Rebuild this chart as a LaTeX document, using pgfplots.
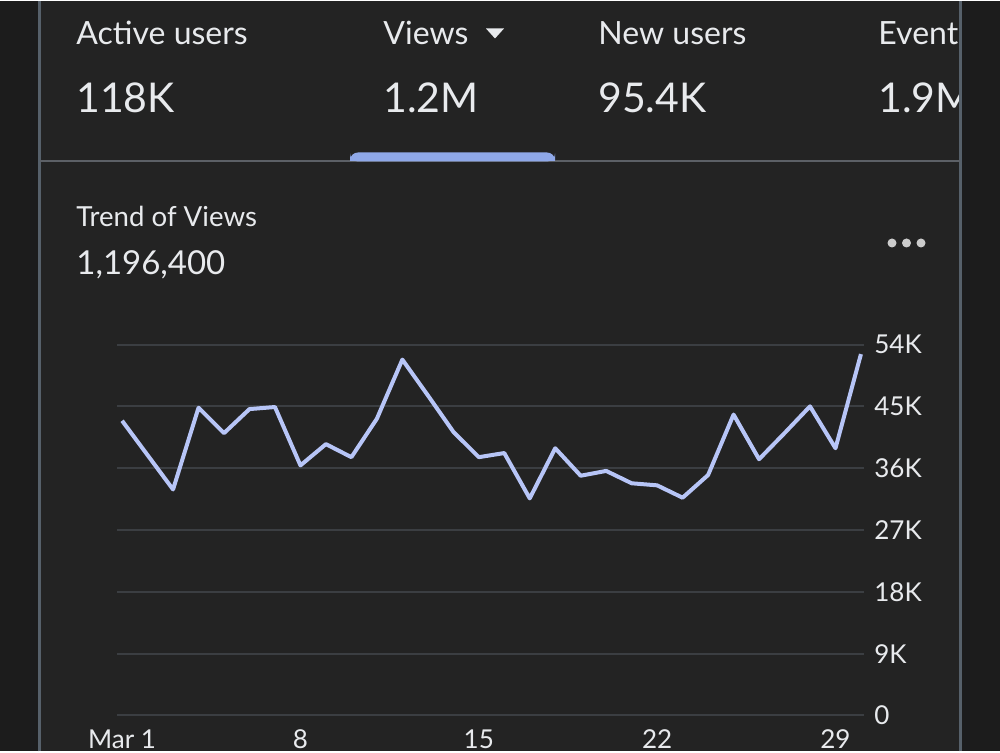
\documentclass[border=0pt]{standalone}
\usepackage{pgfplots}
\pgfplotsset{compat=1.18}
\usepackage{fontspec}
\setmainfont{Lato}
\definecolor{outerbg}{HTML}{1C1C1C}
\definecolor{cardbg}{HTML}{232323}
\definecolor{borderc}{HTML}{56606A}
\definecolor{sepc}{HTML}{5C6066}
\definecolor{tabc}{HTML}{8FA8E8}
\definecolor{linec}{HTML}{B7C5F7}
\definecolor{gridc}{HTML}{3B3E42}
\definecolor{txt}{HTML}{E8EAED}
\begin{document}
\begin{tikzpicture}[x=0.5pt,y=0.5pt]
\fill[outerbg] (0,0) rectangle (1000,750);
\fill[cardbg] (40,0) rectangle (960,750);
% header texts
\begin{scope}[every node/.style={inner sep=0pt, anchor=base west, text=txt}]
\node at (76,707) {\fontsize{16}{18}\selectfont Active users};
\node at (383,707) {\fontsize{16}{18}\selectfont Views};
\node at (598,707) {\fontsize{16}{18}\selectfont New users};
\node at (878,707) {\fontsize{16}{18}\selectfont Events};
\node at (76,639) {\fontsize{20.5}{24}\selectfont 118K};
\node at (383,639) {\fontsize{20.5}{24}\selectfont 1.2M};
\node at (598,639) {\fontsize{20.5}{24}\selectfont 95.4K};
\node at (878,639) {\fontsize{20.5}{24}\selectfont 1.9M};
\node at (76,525) {\fontsize{13.8}{16}\selectfont Trend of Views};
\node at (76,477) {\fontsize{16.5}{19}\selectfont 1,196,400};
\end{scope}
\fill[txt] (486,723) -- (504,723) -- (495,713) -- cycle;
\fill[black!20] (892,508.5) circle (4.5) (906.5,508.5) circle (4.5) (921,508.5) circle (4.5);
% clip right overflow
\fill[outerbg] (961,0) rectangle (1000,750);
\draw[borderc, line width=1.5pt] (39.5,0) -- (39.5,750);
\draw[borderc, line width=1.5pt] (960.5,0) -- (960.5,750);
\draw[sepc, line width=1pt] (40,590) -- (960,590);
\fill[tabc, rounded corners=4pt] (350,590) -- (350,599) -- (555,599) -- (555,590) -- cycle;
\fill[tabc] (350,590) rectangle (555,594);
\begin{axis}[
  at={(58.5pt,18pt)}, anchor=south west,
  scale only axis, width=373.5pt, height=185.5pt,
  xmin=0.8, xmax=30.12, ymin=0, ymax=54,
  axis line style={draw=none},
  major tick length=0pt,
  ytick={0,9,18,27,36,45,54},
  yticklabels={0,9K,18K,27K,36K,45K,54K},
  yticklabel pos=right,
  yticklabel style={anchor=west, inner sep=0pt, xshift=5pt},
  xtick={1,8,15,22,29},
  xticklabels={Mar 1,8,15,22,29},
  xticklabel style={anchor=base, inner sep=0pt, yshift=-16.5pt},
  ticklabel style={font=\fontsize{13}{15}\selectfont, text=txt},
  ymajorgrids, grid style={color=gridc, line width=1pt},
  clip=false,
]
\addplot[color=linec, line width=2pt, line join=round, mark=none] coordinates {
(1,42.9) (2,37.9) (3,32.9) (4,44.8) (5,41.1) (6,44.6) (7,44.9) (8,36.4)
(9,39.5) (10,37.6) (11,43.2) (12,51.8) (13,46.6) (14,41.3) (15,37.6)
(16,38.2) (17,31.6) (18,38.9) (19,34.9) (20,35.6) (21,33.8) (22,33.5)
(23,31.7) (24,35.0) (25,43.8) (26,37.3) (27,41.1) (28,45.0) (29,38.9) (30,52.6)
};
\end{axis}
\end{tikzpicture}
\end{document}
